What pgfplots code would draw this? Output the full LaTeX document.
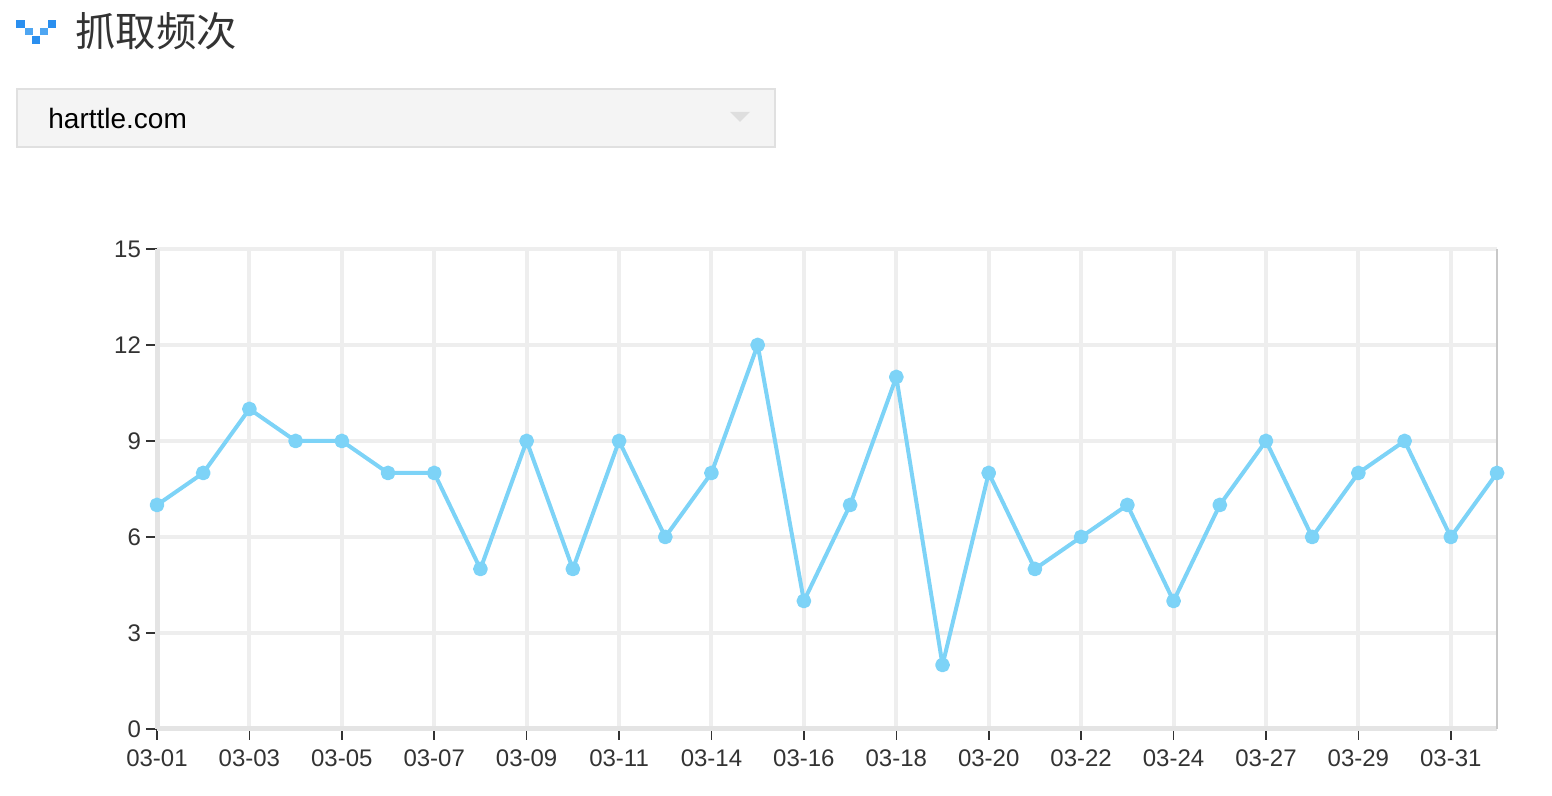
\documentclass[border=0pt]{standalone}
\usepackage{fontspec}
\setmainfont{Liberation Sans}
\newfontfamily\cjk{Noto Sans CJK SC}
\usepackage{pgfplots}
\pgfplotsset{compat=1.18}
\definecolor{gridc}{HTML}{EEEEEE}
\definecolor{axisc}{HTML}{E4E4E4}
\definecolor{rightc}{HTML}{C8C8C8}
\definecolor{linec}{HTML}{7DD3F7}
\definecolor{textc}{HTML}{333333}
\definecolor{boxc}{HTML}{F4F4F4}
\definecolor{boxline}{HTML}{E0E0E0}
\definecolor{iconc}{HTML}{2A8FEF}
\definecolor{iconl}{HTML}{4FA6F2}
\begin{document}
\begin{tikzpicture}
\path[use as bounding box] (0,0) rectangle (776pt,398pt);
% page furniture, in reference pixels
\begin{scope}[yshift=398pt,x=0.5pt,y=-0.5pt]
  \fill[iconc] (16,20) rectangle (25,28);
  \fill[iconl] (25,28) rectangle (33,35);
  \fill[iconc] (32,36) rectangle (40,44);
  \fill[iconl] (40,28) rectangle (48,35);
  \fill[iconc] (48,20) rectangle (56,28);
  \node[anchor=west,inner sep=0pt,text=textc] at (75,31) {\cjk\fontsize{20.2}{24}\selectfont 抓取频次};
  \draw[draw=boxline,fill=boxc,line width=1pt] (17,89) rectangle (775,147);
  \node[anchor=west,inner sep=0pt,text=black] at (48,119) {\fontsize{14}{17}\selectfont harttle.com};
  \fill[black!13] (730,112) -- (750,112) -- (740,122) -- cycle;
\end{scope}
\begin{axis}[
    at={(78.5pt,33.5pt)},
    anchor=south west,
    scale only axis,
    width=670pt,
    height=240pt,
    xmin=0, xmax=29,
    ymin=0, ymax=15,
    xtick={0,2,4,6,8,10,12,14,16,18,20,22,24,26,28},
    xticklabels={03-01,03-03,03-05,03-07,03-09,03-11,03-14,03-16,03-18,03-20,03-22,03-24,03-27,03-29,03-31},
    ytick={0,3,6,9,12,15},
    grid=major,
    major grid style={draw=gridc,line width=2pt},
    tick align=outside,
    tick pos=left,
    major tick length=5.5pt,
    tick style={draw=textc,line width=0.8pt},
    axis line style={draw=none},
    clip=false,
    /pgf/number format/assume math mode=true,
    tick label style={text=textc,font=\fontsize{12}{14}\selectfont},
    xticklabel style={yshift=-1.5pt},
    yticklabel style={xshift=1pt},
]
\draw[draw=gridc,line width=2pt] (rel axis cs:0,1) -- (rel axis cs:1,1);
\draw[draw=axisc,line width=2.5pt] (rel axis cs:0,0) -- (rel axis cs:0,1);
\draw[draw=axisc,line width=2.5pt] (rel axis cs:0,0) -- (rel axis cs:1,0);
\draw[draw=rightc,line width=0.9pt] (rel axis cs:1,0) -- (rel axis cs:1,1);
\addplot[color=linec,line width=2pt,line join=round,mark=*,mark size=2.7pt,mark options={fill=linec,draw=none}] coordinates {
    (0,7) (1,8) (2,10) (3,9) (4,9) (5,8) (6,8) (7,5) (8,9) (9,5)
    (10,9) (11,6) (12,8) (13,12) (14,4) (15,7) (16,11) (17,2) (18,8) (19,5)
    (20,6) (21,7) (22,4) (23,7) (24,9) (25,6) (26,8) (27,9) (28,6) (29,8)
};
\end{axis}
\end{tikzpicture}
\end{document}
